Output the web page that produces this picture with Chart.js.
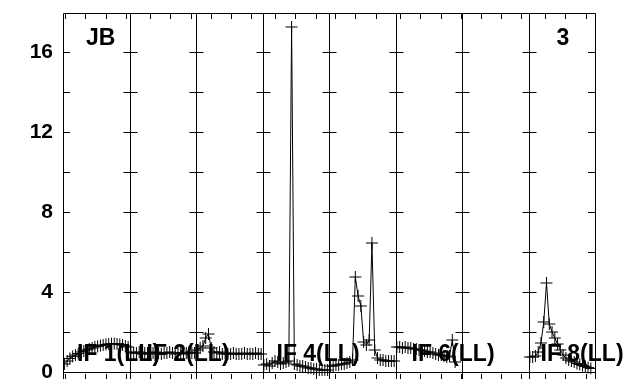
<!DOCTYPE html>
<html>
<head>
<meta charset="utf-8">
<script src="https://cdn.jsdelivr.net/npm/chart.js@4/dist/chart.umd.min.js"></script>
<style>
    html, body { margin: 0; padding: 0; background: #fff; overflow: hidden; }
    #wrap { width: 632px; height: 392px; }
</style>
</head>
<body>
<div id="wrap"><canvas id="chart" width="632" height="392"></canvas></div>
<script>
// Amplitude per channel, one array per IF (24 channels each)
const if1 = [0.4, 0.55, 0.68, 0.78, 0.85, 0.92, 1.0, 1.05, 1.1, 1.15, 1.2, 1.25, 1.28, 1.32, 1.35, 1.38, 1.4, 1.42, 1.42, 1.4, 1.38, 1.35, 1.3, 1.25];
const if2 = [1.0, 0.95, 0.95, 1.0, 0.9, 0.95, 0.95, 0.9, 0.95, 1.0, 0.95, 0.9, 0.95, 0.95, 1.0, 0.95, 0.9, 0.95, 0.95, 0.9, 0.95, 1.0, 0.95, 0.95];
const if3 = [1.1, 1.2, 1.3, 1.7, 1.9, 1.2, 1.0, 0.95, 1.0, 0.9, 0.95, 0.9, 0.9, 0.95, 0.9, 0.9, 0.9, 0.95, 0.9, 0.9, 0.9, 0.95, 0.9, 0.9];
const if4 = [0.35, 0.4, 0.3, 0.45, 0.55, 0.5, 0.4, 0.45, 0.5, 0.55, 17.25, 0.4, 0.35, 0.3, 0.3, 0.25, 0.2, 0.2, 0.15, 0.15, 0.1, 0.1, 0.1, 0.1];
const if5 = [0.3, 0.3, 0.35, 0.35, 0.4, 0.4, 0.45, 0.5, 0.6, 4.75, 3.8, 3.3, 1.5, 1.35, 1.6, 6.45, 1.1, 0.7, 0.6, 0.6, 0.55, 0.55, 0.55, 0.55];
const if6 = [1.25, 1.25, 1.2, 1.25, 1.2, 1.2, 1.15, 1.15, 1.1, 1.1, 1.05, 1.0, 1.0, 0.95, 0.9, 0.85, 0.85, 0.8, 0.75, 0.8, 1.6, 0.5, null, null];
const if7 = []; // flagged, nothing plotted
const if8 = [0.75, 0.75, 0.8, 1.0, 1.45, 2.5, 4.45, 2.4, 2.0, 1.7, 1.4, 1.1, 0.85, 0.7, 0.6, 0.55, 0.5, 0.42, 0.38, 0.32, 0.28, 0.22, 0.18, null];

const ifSeries = [if1, if2, if3, if4, if5, if6, if7, if8];
const ifLabels = ['IF 1(LL)', 'IF 2(LL)', '', 'IF 4(LL)', '', 'IF 6(LL)', '', 'IF 8(LL)'];
const yTickLabels = [0, 4, 8, 12, 16];
const sourceName = 'JB';
const plotNumber = '3';

const nChan = 24;

// axis tick layout inside each IF panel (in tick units)
const tickPhase = [0.10, 0.01, 0.72, 0.62, 0.30, 0.22, 0.92, 0.81];
const tickStep = 0.3053;
const labelOffset = [14, 17, 0, 14, 0, 16, 0, 12];
const font = '"Liberation Sans", Arial, sans-serif';

// Frame, panel separators and inward tick marks
const framePlugin = {
    id: 'frame',
    beforeDatasetsDraw(chart) {
        const { ctx, chartArea: a, scales: { x, y } } = chart;
        const px = v => Math.round(v) + 0.5;
        ctx.save();
        ctx.strokeStyle = '#000';
        ctx.lineWidth = 1;
        ctx.beginPath();
        ctx.rect(px(a.left), px(a.top), Math.round(a.right - a.left), Math.round(a.bottom - a.top));
        const y0 = px(y.getPixelForValue(0));
        ctx.moveTo(a.left, y0);
        ctx.lineTo(a.right, y0);

        for (let p = 1; p < 8; p++) {
            const sx = px(x.getPixelForValue(p));
            ctx.moveTo(sx, a.top);
            ctx.lineTo(sx, a.bottom);
        }

        for (let v = 2; v <= 16; v += 2) {
            const ty = px(y.getPixelForValue(v));
            ctx.moveTo(a.left, ty);
            ctx.lineTo(a.left + 7, ty);
            ctx.moveTo(a.right - 7, ty);
            ctx.lineTo(a.right, ty);
            for (let p = 1; p < 8; p++) {
                const sx = px(x.getPixelForValue(p));
                ctx.moveTo(sx - 7, ty);
                ctx.lineTo(sx + 7, ty);
            }
        }

        for (let p = 0; p < 8; p++) {
            for (let k = 0; (tickPhase[p] + k) * tickStep < 1; k++) {
                const tx = px(x.getPixelForValue(p + (tickPhase[p] + k) * tickStep));
                ctx.moveTo(tx, a.top);
                ctx.lineTo(tx, a.top + 6);
                ctx.moveTo(tx, a.bottom);
                ctx.lineTo(tx, a.bottom - 6);
            }
        }
        ctx.stroke();
        ctx.restore();
    },
    afterDatasetsDraw(chart) {
        const { ctx, chartArea: a, scales: { x, y } } = chart;
        ctx.save();
        ctx.fillStyle = '#000';
        ctx.font = 'bold 23px ' + font;
        ctx.textBaseline = 'alphabetic';
        ctx.fillText(sourceName, x.getPixelForValue(0) + 23, a.top + 32);
        ctx.fillText(plotNumber, x.getPixelForValue(7) + 28, a.top + 32);
        const base = y.getPixelForValue(0) - 11;
        ifLabels.forEach((t, p) => {
            if (t) ctx.fillText(t, x.getPixelForValue(p) + labelOffset[p], base);
        });
        ctx.restore();
    }
};

const datasets = ifSeries.map((vals, p) => ({
    label: 'IF ' + (p + 1),
    data: vals.map((v, i) => ({ x: p + (i + 0.5) / nChan, y: v })),
    borderColor: '#000',
    borderWidth: 1,
    pointStyle: 'cross',
    pointRadius: 6,
    pointBorderColor: '#000',
    pointBorderWidth: 1,
    tension: 0,
    spanGaps: false
}));

new Chart(document.getElementById('chart'), {
    type: 'line',
    data: { datasets },
    options: {
        responsive: false,
        animation: false,
        devicePixelRatio: 1,
        layout: { padding: { top: 13, right: 37, bottom: 12, left: 0 } },
        plugins: {
            legend: { display: false },
            tooltip: { enabled: false }
        },
        scales: {
            x: {
                type: 'linear',
                min: 0,
                max: 8,
                display: false
            },
            y: {
                min: -0.4,
                max: 17.95,
                afterFit(scale) {
                    scale.width = 63;
                    scale.paddingTop = 0;
                    scale.paddingBottom = 0;
                },
                afterBuildTicks(scale) { scale.ticks = yTickLabels.map(v => ({ value: v })); },
                grid: { display: false, drawTicks: false },
                border: { display: false },
                ticks: {
                    padding: 10,
                    color: '#000',
                    font: { family: font, size: 21, weight: 'bold' }
                }
            }
        }
    },
    plugins: [framePlugin]
});
</script>
</body>
</html>
